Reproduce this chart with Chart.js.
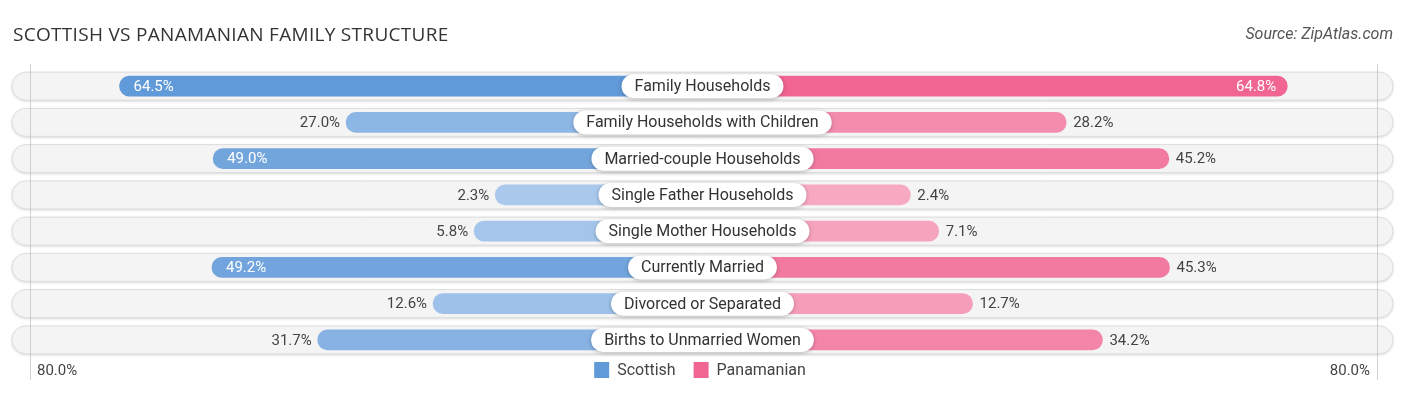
<!DOCTYPE html>
<html>
<head>
<meta charset="utf-8">
<title>Scottish vs Panamanian Family Structure</title>
<script src="https://cdn.jsdelivr.net/npm/chart.js@4/dist/chart.umd.min.js"></script>
<style>
  html, body { margin: 0; padding: 0; background: #fff; }
  #wrap { position: relative; width: 1406px; height: 395px; }
  #title { position: absolute; left: 13px; top: 21px; font: 19px "Open Sans", sans-serif; color: #333; letter-spacing: 0.3px; }
  #source { position: absolute; right: 13px; top: 24px; font: italic 16px Roboto, sans-serif; color: #555; }
  canvas { position: absolute; left: 0; top: 0; }
</style>
</head>
<body>
<div id="wrap">
  <canvas id="chart" width="1406" height="395"></canvas>
  <div id="title">SCOTTISH VS PANAMANIAN FAMILY STRUCTURE</div>
  <div id="source">Source: ZipAtlas.com</div>
</div>
<script>
var categories = [
  'Family Households',
  'Family Households with Children',
  'Married-couple Households',
  'Single Father Households',
  'Single Mother Households',
  'Currently Married',
  'Divorced or Separated',
  'Births to Unmarried Women'
];
var scottish = [64.5, 27.0, 49.0, 2.3, 5.8, 49.2, 12.6, 31.7];
var panamanian = [64.8, 28.2, 45.2, 2.4, 7.1, 45.3, 12.7, 34.2];
var seriesNames = ['Scottish', 'Panamanian'];
var axisMax = 80;
var axisLabels = ['80.0%', '80.0%'];

// bars start this far out from the centre so the label pill fits
var OFF = 32;
var HALF = 114.3;

function mix(a, b, t) {
  var r = Math.round(a[0] + (b[0] - a[0]) * t);
  var g = Math.round(a[1] + (b[1] - a[1]) * t);
  var bl = Math.round(a[2] + (b[2] - a[2]) * t);
  return 'rgb(' + r + ',' + g + ',' + bl + ')';
}
function blueFor(v) { return mix([172, 202, 236], [97, 154, 217], Math.min(v / 64, 1)); }
function pinkFor(v) { return mix([247, 172, 195], [240, 101, 145], Math.min(v / 64, 1)); }

// pill shape (radius = half the height)
function pill(ctx, x, y, w, h) {
  var r = h / 2;
  ctx.beginPath();
  ctx.moveTo(x + r, y);
  ctx.lineTo(x + w - r, y);
  ctx.arc(x + w - r, y + r, r, -Math.PI / 2, Math.PI / 2);
  ctx.lineTo(x + r, y + h);
  ctx.arc(x + r, y + r, r, Math.PI / 2, Math.PI * 1.5);
  ctx.closePath();
}

var rowsPlugin = {
  id: 'rows',
  beforeDatasetsDraw: function (chart) {
    var ctx = chart.ctx, area = chart.chartArea;
    var xs = chart.scales.x, ys = chart.scales.y;
    ctx.save();
    categories.forEach(function (c, i) {
      var y = ys.getPixelForValue(i);
      ctx.shadowColor = 'rgba(0,0,0,0.18)';
      ctx.shadowBlur = 3;
      ctx.shadowOffsetY = 1;
      pill(ctx, area.left, y - 14, area.right - area.left, 28);
      ctx.fillStyle = '#f4f4f4';
      ctx.fill();
      ctx.shadowColor = 'transparent';
      ctx.strokeStyle = '#dddddd';
      ctx.lineWidth = 1;
      ctx.stroke();
    });
    // faint guide lines at +/- 80%
    ctx.strokeStyle = 'rgba(180,180,180,0.6)';
    ctx.lineWidth = 1;
    [-(axisMax + OFF) + 0.6, axisMax + OFF - 0.4].forEach(function (v) {
      var x = Math.round(xs.getPixelForValue(v)) + 0.5;
      ctx.beginPath();
      ctx.moveTo(x, area.top - 4);
      ctx.lineTo(x, 380);
      ctx.stroke();
    });
    ctx.restore();
  },
  afterDatasetsDraw: function (chart) {
    var ctx = chart.ctx;
    var xs = chart.scales.x, ys = chart.scales.y;
    ctx.save();
    ctx.textBaseline = 'middle';
    categories.forEach(function (c, i) {
      var y = ys.getPixelForValue(i);
      var cx = xs.getPixelForValue(0);
      // category pill
      ctx.font = '16px Roboto, sans-serif';
      var w = ctx.measureText(c).width + 26;
      ctx.shadowColor = 'rgba(0,0,0,0.25)';
      ctx.shadowBlur = 4;
      ctx.shadowOffsetY = 1;
      pill(ctx, cx - w / 2, y - 12, w, 24);
      ctx.fillStyle = '#ffffff';
      ctx.fill();
      ctx.shadowColor = 'transparent';
      ctx.fillStyle = '#333333';
      ctx.textAlign = 'center';
      ctx.fillText(c, cx, y + 1);

      // value labels
      ctx.font = '15px Roboto, sans-serif';
      var s = scottish[i], p = panamanian[i];
      var ls = xs.getPixelForValue(-(OFF + s));
      if (s > 46) {
        ctx.fillStyle = '#ffffff';
        ctx.textAlign = 'left';
        ctx.fillText(s.toFixed(1) + '%', ls + 14, y + 1);
      } else {
        ctx.fillStyle = '#444444';
        ctx.textAlign = 'right';
        ctx.fillText(s.toFixed(1) + '%', ls - 6, y + 1);
      }
      var rp = xs.getPixelForValue(OFF + p);
      if (p > 46) {
        ctx.fillStyle = '#ffffff';
        ctx.textAlign = 'right';
        ctx.fillText(p.toFixed(1) + '%', rp - 11, y + 1);
      } else {
        ctx.fillStyle = '#444444';
        ctx.textAlign = 'left';
        ctx.fillText(p.toFixed(1) + '%', rp + 7, y + 1);
      }
    });
    // axis end labels
    ctx.font = '15px Roboto, sans-serif';
    ctx.fillStyle = '#444444';
    ctx.textAlign = 'left';
    ctx.fillText(axisLabels[0], 37, 371);
    ctx.textAlign = 'right';
    ctx.fillText(axisLabels[1], 1370, 371);

    // legend
    ctx.font = '16px Roboto, sans-serif';
    var colors = [blueFor(64), pinkFor(64)];
    var box = 15, gapText = 8, gapItem = 18;
    var widths = seriesNames.map(function (n) { return box + gapText + ctx.measureText(n).width; });
    var total = widths[0] + gapItem + widths[1];
    var lx = 700 - total / 2;
    ctx.textAlign = 'left';
    seriesNames.forEach(function (n, k) {
      ctx.fillStyle = colors[k];
      ctx.fillRect(lx, 362, box, 16);
      ctx.fillStyle = '#444444';
      ctx.fillText(n, lx + box + gapText, 370.5);
      lx += widths[k] + gapItem;
    });
    ctx.restore();
  }
};

new Chart(document.getElementById('chart').getContext('2d'), {
  type: 'bar',
  data: {
    labels: categories,
    datasets: [
      {
        label: seriesNames[0],
        data: scottish.map(function (v) { return [-(OFF + v), 0]; }),
        backgroundColor: function (c) { return blueFor(scottish[c.dataIndex] || 64); },
        grouped: false,
        barThickness: 20,
        borderRadius: 10,
        borderSkipped: false
      },
      {
        label: seriesNames[1],
        data: panamanian.map(function (v) { return [0, OFF + v]; }),
        backgroundColor: function (c) { return pinkFor(panamanian[c.dataIndex] || 64); },
        grouped: false,
        barThickness: 20,
        borderRadius: 10,
        borderSkipped: false
      }
    ]
  },
  options: {
    indexAxis: 'y',
    responsive: false,
    animation: false,
    layout: { padding: { top: 68, left: 12, right: 13, bottom: 37 } },
    scales: {
      x: { min: -HALF, max: HALF, display: false },
      y: { display: false }
    },
    plugins: {
      legend: { display: false },
      tooltip: { enabled: false }
    }
  },
  plugins: [rowsPlugin]
});
</script>
</body>
</html>
